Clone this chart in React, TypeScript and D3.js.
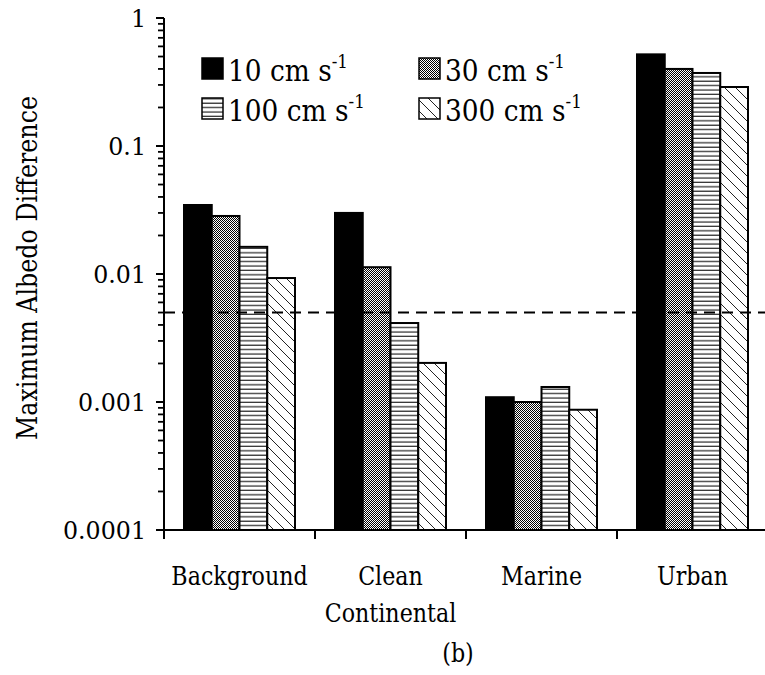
import React from "react";
import * as d3 from "d3";

const categories = ["Background", "Clean Continental", "Marine", "Urban"];
const categoryLines = [["Background"], ["Clean", "Continental"], ["Marine"], ["Urban"]];
const speeds = ["10", "30", "100", "300"];

// maximum albedo difference, one array per deposition speed
const speed10 = [0.0346, 0.03, 0.00109, 0.52];
const speed30 = [0.0284, 0.0113, 0.001, 0.4];
const speed100 = [0.0163, 0.00414, 0.00131, 0.372];
const speed300 = [0.0093, 0.00202, 0.00087, 0.289];
const threshold = 0.005;

const yTickValues = [1, 0.1, 0.01, 0.001, 0.0001];
const yTickLabels = ["1", "0.1", "0.01", "0.001", "0.0001"];

const seriesValues = [speed10, speed30, speed100, speed300];
const fills = ["#000", "url(#dots)", "url(#hlines)", "url(#diag)"];

const W = 765;
const H = 675;
const x0 = 164;
const yTop = 18;
const yBottom = 530;
const font = '"DejaVu Serif", serif';

// serif text squeezed a little so DejaVu Serif takes the width of a Times face
function Label({ x, y, size, sx = 0.88, anchor = "middle", rotate = 0, children }: any) {
  return (
    <text
      transform={`translate(${x},${y}) rotate(${rotate}) scale(${sx},1)`}
      textAnchor={anchor}
      fontSize={size}
      style={{ fontFamily: font }}
      fill="#000"
    >
      {children}
    </text>
  );
}

export default function App() {
  const x = d3
    .scaleBand<string>()
    .domain(categories)
    .range([x0, x0 + 151 * 4])
    .paddingInner(0.265)
    .paddingOuter(0.1325);

  const xs = d3.scaleBand<string>().domain(speeds).range([0, x.bandwidth()]);

  const y = d3.scaleLog().domain([0.0001, 1]).range([yBottom, yTop]);

  // minor ticks 2..9 in each decade
  const minor: number[] = [];
  [0.0001, 0.001, 0.01, 0.1].forEach(d => {
    for (let k = 2; k <= 9; k++) minor.push(d * k);
  });

  const step = x.step();
  const boundaries = categories.map(c => (x(c) as number) - (step * x.paddingInner()) / 2);

  return (
    <svg
      width={W}
      height={H}
      style={{ position: "absolute", left: 0, top: 0, background: "#fff", fontFamily: font }}
    >
      <defs>
        <pattern id="dots" width={2} height={2} patternUnits="userSpaceOnUse">
          <rect width={2} height={2} fill="#fff" />
          <rect width={1} height={1} fill="#000" />
          <rect x={1} y={1} width={1} height={1} fill="#000" />
        </pattern>
        <pattern id="hlines" width={8} height={4.4} patternUnits="userSpaceOnUse">
          <rect width={8} height={4.4} fill="#fff" />
          <line x1={0} x2={8} y1={2} y2={2} stroke="#222" strokeWidth={1.2} />
        </pattern>
        <pattern id="diag" width={11} height={11} patternUnits="userSpaceOnUse">
          <rect width={11} height={11} fill="#fff" />
          <line x1={0} y1={0} x2={11} y2={11} stroke="#222" strokeWidth={1} />
          <line x1={-1} y1={10} x2={1} y2={12} stroke="#222" strokeWidth={1} />
          <line x1={10} y1={-1} x2={12} y2={1} stroke="#222" strokeWidth={1} />
        </pattern>
      </defs>

      {/* bars */}
      {categories.map((c, ci) => (
        <g key={c} transform={`translate(${x(c)},0)`}>
          {speeds.map((s, si) => {
            const v = seriesValues[si][ci];
            return (
              <rect
                key={s}
                x={xs(s)}
                y={y(v)}
                width={xs.bandwidth()}
                height={yBottom - y(v)}
                fill={fills[si]}
                stroke="#000"
                strokeWidth={2}
              />
            );
          })}
        </g>
      ))}

      {/* threshold line */}
      <line
        x1={x0}
        x2={W}
        y1={y(threshold)}
        y2={y(threshold)}
        stroke="#000"
        strokeWidth={2}
        strokeDasharray="11 7"
      />

      {/* y axis */}
      <line x1={x0} x2={x0} y1={yTop} y2={yBottom} stroke="#000" strokeWidth={2} />
      {yTickValues.map((t, i) => (
        <g key={t}>
          <line x1={x0 - 8} x2={x0} y1={y(t)} y2={y(t)} stroke="#000" strokeWidth={2} />
          <Label x={146} y={y(t) + 9} size={25} sx={0.95} anchor="end">
            {yTickLabels[i]}
          </Label>
        </g>
      ))}
      {minor.map(t => (
        <line
          key={t}
          x1={x0 - 6}
          x2={x0}
          y1={y(t)}
          y2={y(t)}
          stroke="#000"
          strokeWidth={1.8}
        />
      ))}
      <Label x={37} y={268} size={27} rotate={-90}>
        Maximum Albedo Difference
      </Label>

      {/* x axis */}
      <line x1={x0 - 7} x2={W} y1={yBottom} y2={yBottom} stroke="#000" strokeWidth={2} />
      {boundaries.map((b, i) => (
        <line key={i} x1={b} x2={b} y1={yBottom} y2={yBottom + 9} stroke="#000" strokeWidth={2} />
      ))}
      {categories.map((c, ci) =>
        categoryLines[ci].map((line, li) => (
          <Label
            key={c + li}
            x={(x(c) as number) + x.bandwidth() / 2}
            y={585 + li * 37}
            size={25.5}
            sx={0.87}
          >
            {line}
          </Label>
        ))
      )}
      <Label x={458} y={662} size={25.5} sx={0.87}>
        (b)
      </Label>

      {/* legend */}
      {speeds.map((s, si) => {
        const col = si % 2;
        const row = Math.floor(si / 2);
        const lx = col === 0 ? 202 : 419;
        const ly = row === 0 ? 58 : 98;
        return (
          <g key={s}>
            <rect
              x={lx}
              y={ly}
              width={21}
              height={21}
              fill={fills[si]}
              stroke="#000"
              strokeWidth={1.5}
            />
            <Label x={lx + 26} y={ly + 23} size={30} sx={0.88} anchor="start">
              {`${s} cm s`}
              <tspan fontSize={19} dy={-13}>
                -1
              </tspan>
            </Label>
          </g>
        );
      })}
    </svg>
  );
}
